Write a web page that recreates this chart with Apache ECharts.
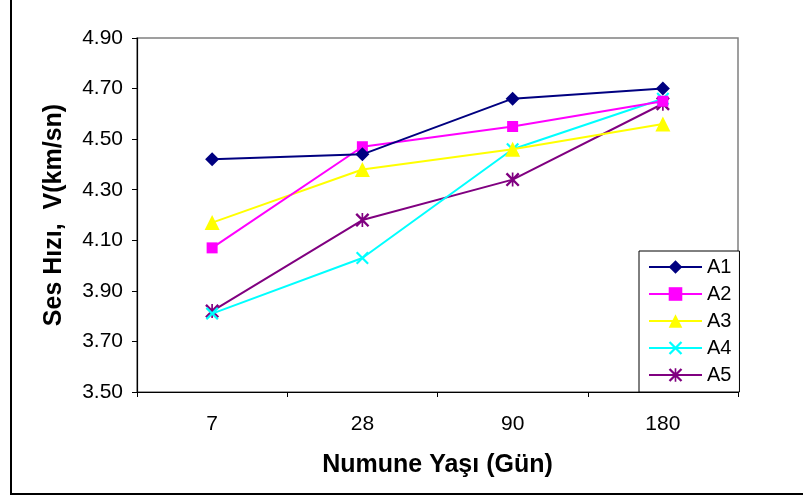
<!DOCTYPE html>
<html>
<head>
<meta charset="utf-8">
<script src="https://cdn.jsdelivr.net/npm/echarts@6/dist/echarts.min.js"></script>
<style>
  html, body { margin: 0; padding: 0; background: #fff; }
  #chart { width: 803px; height: 497px; }
</style>
</head>
<body>
<div id="chart"></div>
<script>
// Sample age (days) on the category axis
const ages = ['7', '28', '90', '180'];

// Ultrasonic pulse velocity, km/s
const seriesNames = ['A1', 'A2', 'A3', 'A4', 'A5'];
const A1 = [4.42, 4.44, 4.66, 4.70];
const A2 = [4.07, 4.47, 4.55, 4.65];
const A3 = [4.17, 4.38, 4.46, 4.56];
const A4 = [3.81, 4.03, 4.46, 4.66];
const A5 = [3.82, 4.18, 4.34, 4.64];

// Value axis range and step
const yMin = 3.5;
const yMax = 4.9;
const yStep = 0.2;

const colors = ['#000080', '#FF00FF', '#FFFF00', '#00FFFF', '#800080'];

// Cross and asterisk marker outlines
const crossPath = 'path://M0,1.2 L1.2,0 L10,8.8 L8.8,10 Z M8.8,0 L10,1.2 L1.2,10 L0,8.8 Z';
const starPath = crossPath + ' M4.4,0 L5.6,0 L5.6,10 L4.4,10 Z';
const symbols = ['diamond', 'rect', 'triangle', crossPath, starPath];
const symbolSizes = [14, 11, 15, 13, 14];

// The axis counts from zero, so values are measured from yMin
const shift = v => +(v - yMin).toFixed(4);
const rows = [A1, A2, A3, A4, A5];

const font = 'Arial, "Liberation Sans", sans-serif';

const chart = echarts.init(document.getElementById('chart'), null, { renderer: 'canvas' });

chart.setOption({
  backgroundColor: '#ffffff',
  animation: false,
  grid: {
    left: 137, right: 65, top: 38, bottom: 105,
    show: true, borderColor: '#808080', borderWidth: 1.5, backgroundColor: 'transparent'
  },
  legend: {
    orient: 'vertical',
    left: 639, top: 251,
    padding: [6, 8, 7, 9],
    itemWidth: 53, itemHeight: 17, itemGap: 7,
    backgroundColor: '#ffffff',
    borderColor: '#000000', borderWidth: 1,
    textStyle: { fontFamily: font, fontSize: 20, color: '#000' },
    data: seriesNames
  },
  xAxis: {
    type: 'category',
    data: ages,
    boundaryGap: true,
    name: 'Numune Yaşı (Gün)',
    nameLocation: 'middle',
    nameGap: 61,
    nameTextStyle: { fontFamily: font, fontSize: 25, fontWeight: 'bold', color: '#000' },
    axisLine: { lineStyle: { color: '#000', width: 1.2 } },
    axisTick: { show: true, length: 5, lineStyle: { color: '#000' } },
    axisLabel: { fontFamily: font, fontSize: 21, color: '#000', margin: 22 },
    splitLine: { show: false }
  },
  yAxis: {
    type: 'value',
    min: 0,
    max: +(yMax - yMin).toFixed(4),
    interval: yStep,
    name: 'Ses Hızı,  V(km/sn)',
    nameLocation: 'middle',
    nameGap: 70,
    nameTextStyle: { fontFamily: font, fontSize: 25, fontWeight: 'bold', color: '#000' },
    axisLine: { show: true, lineStyle: { color: '#000', width: 1.2 } },
    axisTick: { show: true, length: 5, lineStyle: { color: '#000' } },
    axisLabel: {
      fontFamily: font, fontSize: 21, color: '#000', margin: 14,
      formatter: v => (v + yMin).toFixed(2)
    },
    splitLine: { show: false }
  },
  series: seriesNames.map((name, i) => ({
    name: name,
    type: 'line',
    data: rows[i].map(shift),
    symbol: symbols[i],
    symbolSize: symbolSizes[i],
    symbolKeepAspect: true,
    color: colors[i],
    itemStyle: { color: colors[i] },
    lineStyle: { color: colors[i], width: 2 },
    z: 10 - i
  })),
  graphic: [{
    type: 'polyline',
    shape: { points: [[11, -5], [11, 494], [810, 494]] },
    style: { stroke: '#000', lineWidth: 2, fill: null },
    silent: true
  }]
});
</script>
</body>
</html>
